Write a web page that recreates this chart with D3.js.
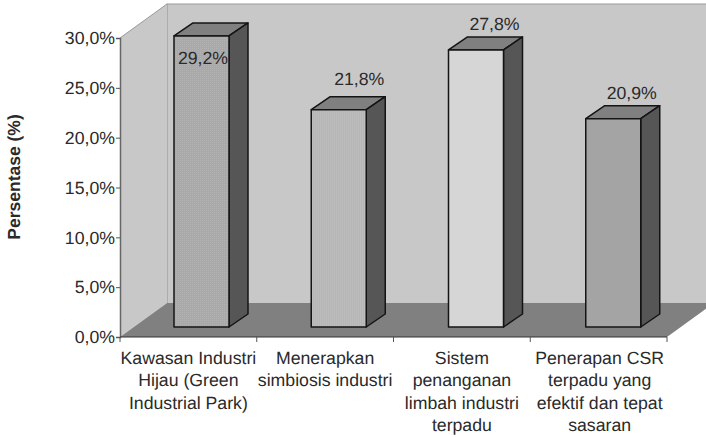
<!DOCTYPE html>
<html>
<head>
<meta charset="utf-8">
<script src="https://cdn.jsdelivr.net/npm/d3@7"></script>
<style>
  html, body { margin: 0; padding: 0; background: #fff; }
  svg { display: block; }
  text { font-family: "Liberation Sans", Arial, sans-serif; fill: #2a2a2a; text-rendering: geometricPrecision; }
</style>
</head>
<body>
<svg width="706" height="437"></svg>
<script>
var categories = [
    ["Kawasan Industri", "Hijau (Green", "Industrial Park)"],
    ["Menerapkan", "simbiosis industri"],
    ["Sistem", "penanganan", "limbah industri", "terpadu"],
    ["Penerapan CSR", "terpadu yang", "efektif dan tepat", "sasaran"]
];
var values = [29.2, 21.8, 27.8, 20.9];
var valueLabels = ["29,2%", "21,8%", "27,8%", "20,9%"];
var yTicks = [0, 5, 10, 15, 20, 25, 30];
var barFills = ["url(#dots)", "url(#lines)", "#d6d6d6", "#a4a4a4"];

var svg = d3.select("svg");

// plot box, front plane
var left = 120, right = 667, bottom = 337, top_ = 38;
// depth of the 3d box and of one bar
var dx = 47, dy = -34;
var barDx = 19, barDy = -13;
var barW = 55, barInset = 54, barLift = 10;
var fontSize = 17.7;

var x = d3.scaleBand().domain(d3.range(categories.length)).range([left, right]);
var y = d3.scaleLinear().domain([0, 30]).range([bottom, top_]);

function poly(pts) { return d3.line()(pts) + "Z"; }

var defs = svg.append("defs");
var p1 = defs.append("pattern").attr("id", "dots").attr("width", 2).attr("height", 2)
    .attr("patternUnits", "userSpaceOnUse");
p1.append("rect").attr("width", 2).attr("height", 2).attr("fill", "#a9a9a9");
p1.append("rect").attr("width", 1).attr("height", 1).attr("fill", "#b2b2b2");
var p2 = defs.append("pattern").attr("id", "lines").attr("width", 2).attr("height", 2)
    .attr("patternUnits", "userSpaceOnUse");
p2.append("rect").attr("width", 2).attr("height", 2).attr("fill", "#b6b6b6");
p2.append("rect").attr("width", 1).attr("height", 2).attr("fill", "#bcbcbc");

// back wall
svg.append("path")
    .attr("d", poly([[left + dx, y(0) + dy], [left + dx, y(30) + dy], [706, y(30) + dy], [706, y(0) + dy]]))
    .attr("fill", "#c8c8c8");
svg.append("path")
    .attr("d", d3.line()([[left + dx, y(0) + dy], [left + dx, y(30) + dy], [706, y(30) + dy]]))
    .attr("fill", "none").attr("stroke", "#9a9a9a").attr("stroke-width", 1.2);

// side wall
svg.append("path")
    .attr("d", poly([[left, y(0)], [left, y(30)], [left + dx, y(30) + dy], [left + dx, y(0) + dy]]))
    .attr("fill", "#c8c8c8");
svg.append("path")
    .attr("d", d3.line()([[left, y(30)], [left + dx, y(30) + dy]]))
    .attr("fill", "none").attr("stroke", "#9a9a9a");

// floor
svg.append("path")
    .attr("d", poly([[left, y(0)], [left + dx, y(0) + dy], [right + dx, y(0) + dy], [right, y(0)]]))
    .attr("fill", "#808080");

// bars
var bars = svg.selectAll(".bar").data(values).enter().append("g").attr("class", "bar");
function bx(i) { return x(i) + barInset + i * 0.5; }
function by0() { return y(0) - barLift; }
function by1(d) { return y(d) - barLift; }

bars.append("path")
    .attr("d", function(d, i) {
        return poly([[bx(i), by1(d)], [bx(i) + barDx, by1(d) + barDy],
                     [bx(i) + barW + barDx, by1(d) + barDy], [bx(i) + barW, by1(d)]]);
    })
    .attr("fill", "#808080");
bars.append("path")
    .attr("d", function(d, i) {
        return poly([[bx(i) + barW, by1(d)], [bx(i) + barW + barDx, by1(d) + barDy],
                     [bx(i) + barW + barDx, by0() + barDy], [bx(i) + barW, by0()]]);
    })
    .attr("fill", "#565656");
bars.append("path")
    .attr("d", function(d, i) {
        return poly([[bx(i), by1(d)], [bx(i) + barW, by1(d)], [bx(i) + barW, by0()], [bx(i), by0()]]);
    })
    .attr("fill", function(d, i) { return barFills[i]; });
bars.selectAll("path")
    .attr("stroke", "#141414").attr("stroke-width", 1.5).attr("stroke-linejoin", "round");

// axes
var yAxis = d3.axisLeft(y).tickValues(yTicks).tickSize(4)
    .tickFormat(function(d) { return d3.format(".1f")(d).replace(".", ",") + "%"; });
var gy = svg.append("g").attr("transform", "translate(" + left + ",0)").call(yAxis);
gy.select(".domain").attr("stroke", "#666").attr("stroke-width", 1.5);
gy.selectAll(".tick line").attr("stroke", "#555");
gy.selectAll(".tick text").attr("font-size", fontSize).attr("x", -5).style("fill", "#2a2a2a");

svg.append("line").attr("x1", left).attr("x2", right).attr("y1", bottom).attr("y2", bottom)
    .attr("stroke", "#333").attr("stroke-width", 1.2);
var catTicks = d3.range(categories.length + 1).map(function(i) {
    return left + i * x.step();
});
svg.selectAll(".ctick").data(catTicks).enter().append("line")
    .attr("x1", function(d) { return d; }).attr("x2", function(d) { return d; })
    .attr("y1", bottom).attr("y2", bottom + 5)
    .attr("stroke", "#555");

// category labels
svg.selectAll(".cat").data(categories).enter().append("text")
    .attr("class", "cat")
    .attr("text-anchor", "middle").attr("font-size", fontSize)
    .selectAll("tspan")
    .data(function(d, i) { return d.map(function(s, j) { return { s: s, i: i, j: j }; }); })
    .enter().append("tspan")
    .attr("x", function(d) { return x(d.i) + x.bandwidth() / 2 + (d.i == 3 ? 1 : 0); })
    .attr("y", function(d) { return 364 + d.j * 22.3; })
    .text(function(d) { return d.s; });

// value labels, first one sits inside its bar
var labelDx = [29, 48, 46, 46];
var labelDy = [28, -25, -20, -20];
svg.selectAll(".val").data(values).enter().append("text")
    .attr("class", "val")
    .attr("text-anchor", "middle").attr("font-size", fontSize)
    .attr("x", function(d, i) { return bx(i) + labelDx[i]; })
    .attr("y", function(d, i) { return by1(d) + labelDy[i]; })
    .text(function(d, i) { return valueLabels[i]; });

// y title
svg.append("text")
    .attr("transform", "translate(20,177) rotate(-90)")
    .attr("text-anchor", "middle").attr("font-size", 17.5).attr("font-weight", "bold")
    .text("Persentase (%)");
</script>
</body>
</html>
